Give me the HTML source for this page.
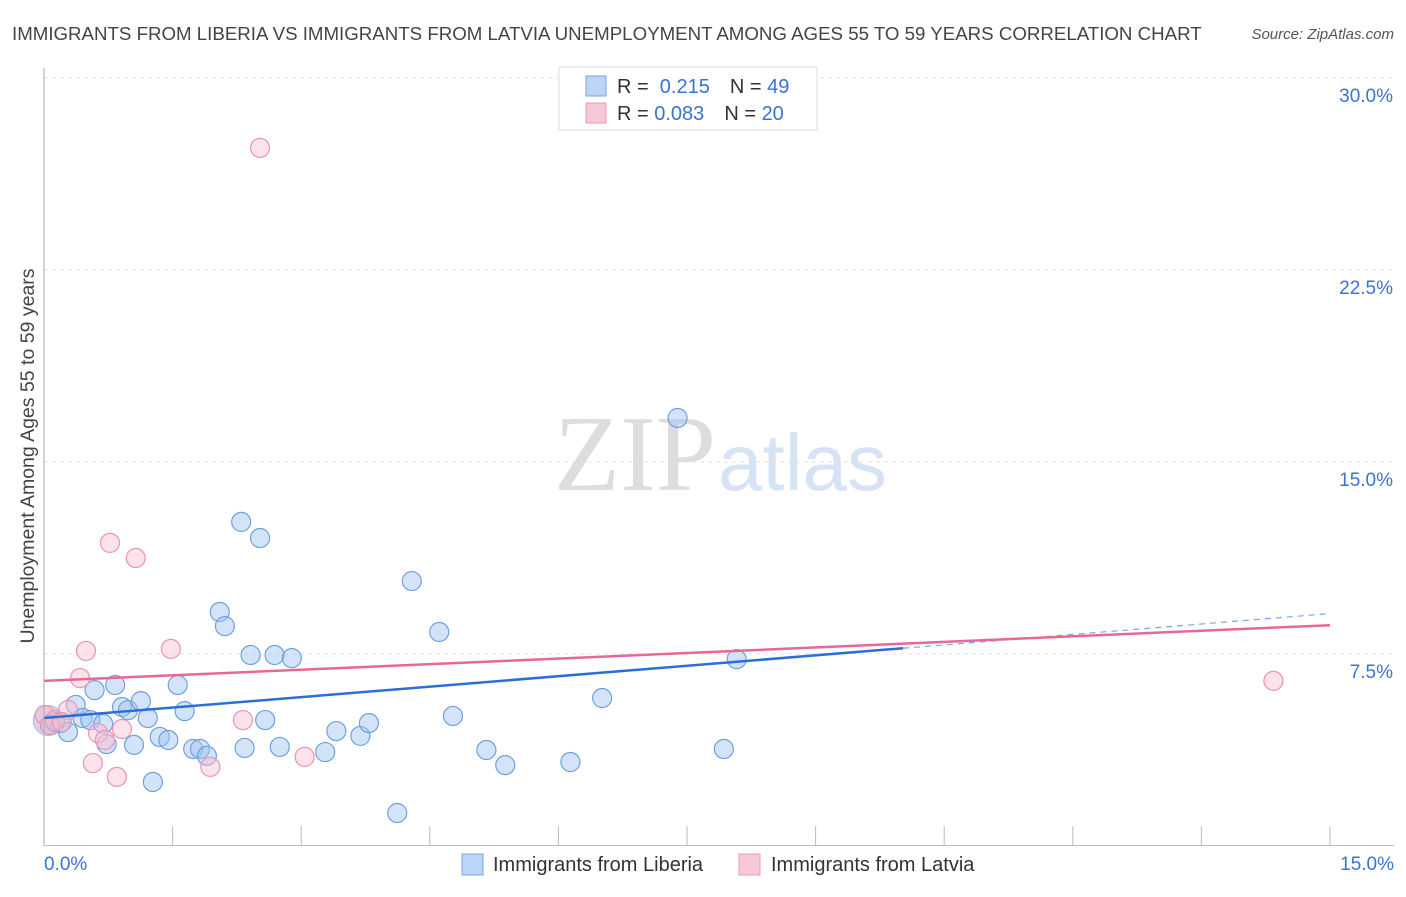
<!DOCTYPE html>
<html><head><meta charset="utf-8"><style>
body{margin:0;background:#fff;font-family:"Liberation Sans",sans-serif}
</style></head><body>
<svg width="1406" height="892" id="svg" xmlns="http://www.w3.org/2000/svg" font-family="Liberation Sans, sans-serif">
<text x="12" y="40" font-size="18.7" fill="#444">IMMIGRANTS FROM LIBERIA VS IMMIGRANTS FROM LATVIA UNEMPLOYMENT AMONG AGES 55 TO 59 YEARS CORRELATION CHART</text>
<text x="1394" y="39" font-size="15" fill="#555" font-style="italic" text-anchor="end">Source: ZipAtlas.com</text>
<text x="716" y="490" font-size="108" fill="#ddd" text-anchor="end" font-family="Liberation Serif, serif">ZIP</text>
<text x="718" y="490" font-size="80" fill="#d6e3f5">atlas</text>
<text transform="translate(34,456) rotate(-90)" font-size="19.5" fill="#444" text-anchor="middle">Unemployment Among Ages 55 to 59 years</text>
<g id="grid"></g><g id="pts"></g><g id="lines"></g>
<line x1="44" y1="68" x2="44" y2="846" stroke="#aaa"/>
<line x1="44" y1="845.5" x2="1394" y2="845.5" stroke="#bbb"/>
<text x="44" y="870" font-size="19" fill="#3a72d8">0.0%</text>
<text x="1394" y="870" font-size="19" fill="#3a72d8" text-anchor="end">15.0%</text>
<g>
<rect x="559" y="67" width="258" height="63" fill="#fff" stroke="#ddd"/>
<rect x="586" y="76" width="20" height="20" fill="#bcd4f6" stroke="#7aa6e4"/>
<rect x="586" y="103" width="20" height="20" fill="#f9c8d8" stroke="#eb98b4"/>
<text x="617" y="93" font-size="20" fill="#333">R = <tspan fill="#3a72d8">&#160;0.215</tspan><tspan dx="20">N = </tspan><tspan fill="#3a72d8">49</tspan></text>
<text x="617" y="120" font-size="20" fill="#333">R = <tspan fill="#3a72d8">0.083</tspan><tspan dx="20">N = </tspan><tspan fill="#3a72d8">20</tspan></text>
</g>
<g>
<rect x="462" y="854" width="21" height="21" fill="#bcd4f6" stroke="#7aa6e4"/>
<text x="493" y="871" font-size="20" fill="#333">Immigrants from Liberia</text>
<rect x="739" y="854" width="21" height="21" fill="#f9c8d8" stroke="#eb98b4"/>
<text x="771" y="871" font-size="20" fill="#333">Immigrants from Latvia</text>
</g>
</svg>
<script>
const yTicks=[7.5,15,22.5,30];
const yTickLabels=["7.5%","15.0%","22.5%","30.0%"];
const xTicks=[0,1.5,3,4.5,6,7.5,9,10.5,12,13.5,15];
const blueX=[0.07,0.13,0.19,0.28,0.37,0.45,0.54,0.59,0.69,0.73,0.83,0.91,0.98,1.05,1.13,1.21,1.27,1.35,1.45,1.56,1.64,1.74,1.82,1.90,2.05,2.11,2.30,2.34,2.41,2.52,2.58,2.69,2.75,2.89,3.28,3.41,3.69,3.79,4.12,4.29,4.61,4.77,5.16,5.38,6.14,6.51,7.39,7.93,8.08];
const blueY=[4.73,4.84,4.80,4.45,5.51,5.00,4.92,6.09,4.77,3.98,6.29,5.43,5.31,3.95,5.66,5.00,2.50,4.26,4.14,6.29,5.27,3.79,3.79,3.52,9.14,8.59,12.66,3.83,7.46,12.03,4.92,7.46,3.87,7.34,3.67,4.49,4.30,4.80,1.29,10.35,8.36,5.08,3.75,3.16,3.28,5.78,16.72,3.79,7.30];
const pinkX=[0.01,0.13,0.28,0.42,0.49,0.63,0.71,0.77,0.85,0.91,1.07,1.48,1.94,2.32,2.52,3.04,0.57,14.34,0.07,0.21];
const pinkY=[5.12,4.92,5.31,6.56,7.62,4.41,4.14,11.84,2.70,4.57,11.25,7.70,3.09,4.92,27.27,3.48,3.24,6.45,4.73,4.84];
const blueTrend=[5.0,0.272];
const pinkTrend=[6.45,0.145];
const NS="http://www.w3.org/2000/svg";
const sx=v=>44+v*1286/15, sy=v=>846-v*25.6;
function mk(t,a,p){const e=document.createElementNS(NS,t);for(const k in a)e.setAttribute(k,a[k]);document.getElementById(p).appendChild(e);return e;}
yTicks.forEach((t,i)=>{
 const l=mk('line',{x1:44,x2:1394,y1:sy(t),y2:sy(t),stroke:'#e2e2e2','stroke-dasharray':'4,4'},'grid');
 
 
 const tx=mk('text',{x:1393,y:sy(t)+24,'font-size':19,fill:'#3a72d8','text-anchor':'end'},'grid');
 tx.textContent=yTickLabels[i];
 
 
});
xTicks.forEach(t=>{
 const l=mk('line',{x1:sx(t),x2:sx(t),y1:826,y2:846,stroke:'#bbb'},'grid');
 
 
});
const big=mk('circle',{cx:sx(0.05),cy:sy(4.9),r:15,fill:'rgba(170,150,210,0.45)',stroke:'rgba(160,140,200,0.6)'},'pts');


blueX.forEach((x,i)=>{
 const c=mk('circle',{cx:sx(x),cy:sy(blueY[i]),r:9.5,fill:'rgba(160,196,240,0.45)',stroke:'#6f9fe2','stroke-width':1.2},'pts');
 
 
});
pinkX.forEach((x,i)=>{
 const c=mk('circle',{cx:sx(x),cy:sy(pinkY[i]),r:9.5,fill:'rgba(248,190,210,0.45)',stroke:'#ec93b2','stroke-width':1.2},'pts');
 
 
});
const bEnd=10.02;
const bl=mk('line',{x1:sx(0),y1:sy(blueTrend[0]),x2:sx(bEnd),y2:sy(blueTrend[0]+blueTrend[1]*bEnd),stroke:'#2a6fd6','stroke-width':2.5},'lines');


const bd=mk('line',{x1:sx(bEnd),y1:sy(blueTrend[0]+blueTrend[1]*bEnd),x2:sx(15),y2:sy(blueTrend[0]+blueTrend[1]*15),stroke:'#7aa6e4','stroke-width':1.2,'stroke-dasharray':'6,5'},'lines');


const pl=mk('line',{x1:sx(0),y1:sy(pinkTrend[0]),x2:sx(15),y2:sy(pinkTrend[0]+pinkTrend[1]*15),stroke:'#e8679a','stroke-width':2.5},'lines');


</script>
</body></html>
